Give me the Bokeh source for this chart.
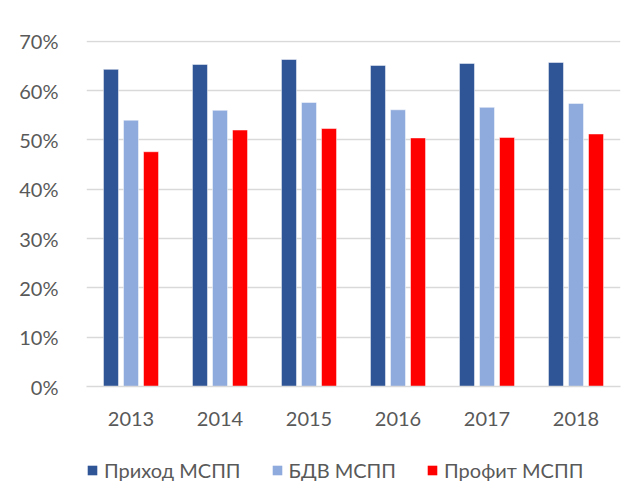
from bokeh.plotting import figure
from bokeh.layouts import column
from bokeh.models import (ColumnDataSource, FactorRange, Range1d, FixedTicker,
                          NumeralTickFormatter, Legend, LegendItem)
from bokeh.transform import dodge
from bokeh.embed import file_html
from bokeh.resources import INLINE

years = ["2013", "2014", "2015", "2016", "2017", "2018"]
prihod = [0.643, 0.653, 0.663, 0.651, 0.655, 0.657]
bdv = [0.540, 0.560, 0.576, 0.561, 0.566, 0.574]
profit = [0.476, 0.520, 0.523, 0.504, 0.505, 0.512]
series_names = ["Приход МСПП", "БДВ МСПП", "Профит МСПП"]
y_ticks = [0.0, 0.1, 0.2, 0.3, 0.4, 0.5, 0.6, 0.7]

colors = ["#2F5597", "#8FAADC", "#FF0000"]
keys = ["prihod", "bdv", "profit"]
offsets = [-0.225, 0.0, 0.225]
FONT = "Lato"
FS = "20px"
TXT = "#595959"

src = ColumnDataSource(dict(year=years, prihod=prihod, bdv=bdv, profit=profit))

p = figure(frame_width=534, frame_height=346, x_range=FactorRange(*years),
           y_range=Range1d(0, 0.7015), output_backend="svg",
           toolbar_location=None, min_border_left=86, min_border_right=16,
           min_border_top=40, min_border_bottom=0)
p.outline_line_color = None
p.background_fill_color = "white"
p.border_fill_color = "white"

for key, off, col in zip(keys, offsets, colors):
    p.vbar(x=dodge("year", off, range=p.x_range), top=key, width=0.169,
           source=src, fill_color=col, line_color="white", line_alpha=0.5,
           line_width=1)

p.yaxis.ticker = FixedTicker(ticks=y_ticks)
p.yaxis.formatter = NumeralTickFormatter(format="0%")
p.yaxis.axis_line_color = None
p.yaxis.major_tick_line_color = None
p.yaxis.minor_tick_line_color = None
p.yaxis.major_label_standoff = 22
p.yaxis.major_label_text_font = FONT
p.yaxis.major_label_text_font_size = FS
p.yaxis.major_label_text_color = TXT

p.xaxis.axis_line_color = "#d9d9d9"
p.xaxis.axis_line_width = 1.5
p.xaxis.major_tick_line_color = None
p.xaxis.minor_tick_line_color = None
p.xaxis.major_label_standoff = 19
p.xaxis.major_label_text_font = FONT
p.xaxis.major_label_text_font_size = FS
p.xaxis.major_label_text_color = TXT

p.xgrid.grid_line_color = None
p.ygrid.grid_line_color = "#d9d9d9"
p.ygrid.grid_line_width = 1.5
p.ygrid.ticker = FixedTicker(ticks=y_ticks)

# legend strip (bars kept out of view; only their legend swatches show)
lg = figure(width=636, height=503 - (40 + 346 + 43), x_range=FactorRange(*years),
            y_range=Range1d(10, 11), output_backend="svg", toolbar_location=None,
            x_axis_location=None, y_axis_location=None, min_border=0)
lg.outline_line_color = None
lg.xgrid.grid_line_color = None
lg.ygrid.grid_line_color = None
rs = []
for key, off, col in zip(keys, offsets, colors):
    rs.append(lg.vbar(x=dodge("year", off, range=lg.x_range), top=key, width=0.169,
                      source=src, fill_color=col, line_color=None))

legend = Legend(items=[LegendItem(label=n, renderers=[g]) for n, g in zip(series_names, rs)],
                orientation="horizontal", location=(0, 20), padding=0, margin=0,
                spacing=30, label_standoff=6, glyph_width=12, glyph_height=12,
                label_text_font=FONT, label_text_font_size=FS,
                label_text_color=TXT, border_line_color=None,
                background_fill_alpha=0)
lg.add_layout(legend, "center")

layout = column(p, lg, spacing=0)
open("out.html", "w").write(file_html(layout, INLINE))
